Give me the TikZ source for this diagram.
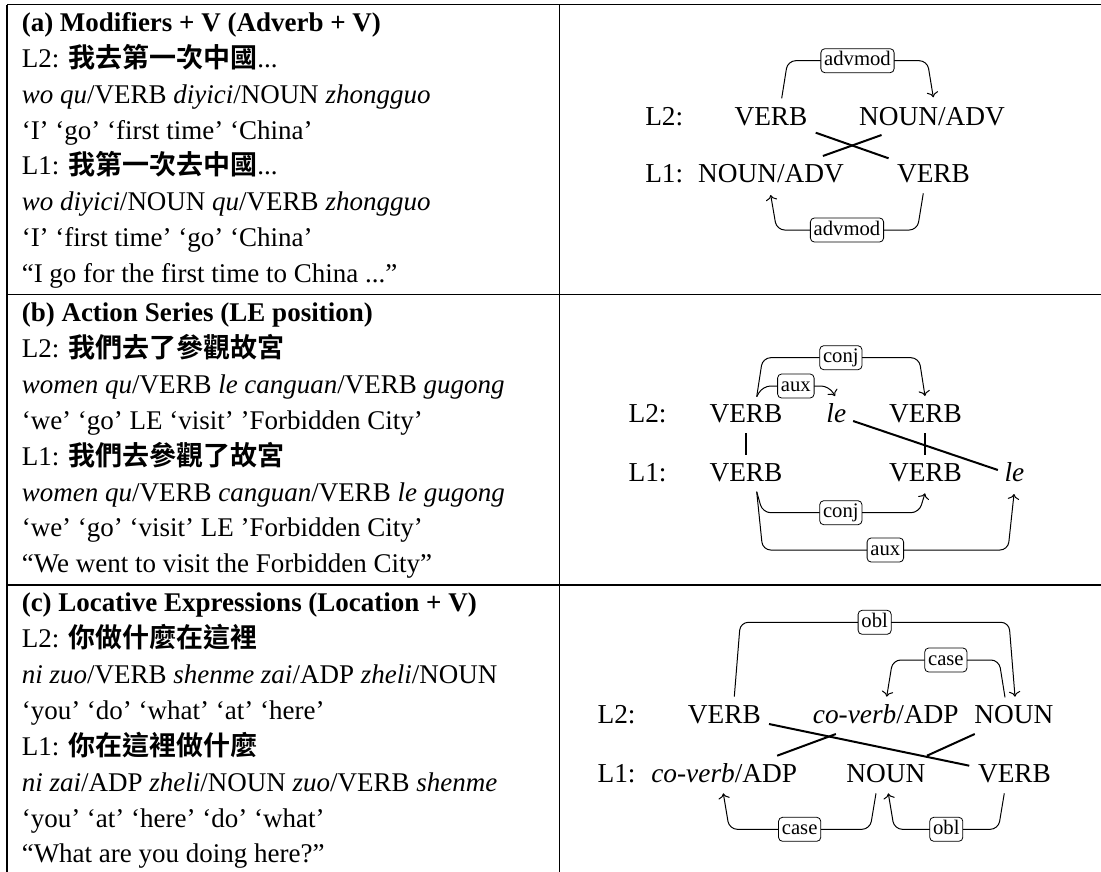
\documentclass[tikz,border=0pt]{standalone}
\usepackage{fontspec}
\setmainfont{Liberation Serif}
\newfontfamily\cjk{Noto Sans CJK TC}[BoldFont={* Bold}]
\usetikzlibrary{calc,arrows.meta}
\newcommand{\zh}[1]{{\cjk\bfseries #1}}
\begin{document}
\begin{tikzpicture}[x=0.75pt,y=-0.75pt,
  txt/.style={anchor=base west,inner sep=0pt,font=\fontsize{20.25pt}{24pt}\selectfont},
  wd/.style={anchor=base,inner sep=0pt,font=\fontsize{20.5pt}{24pt}\selectfont},
  lv/.style={anchor=base west,inner sep=0pt,font=\fontsize{20.5pt}{24pt}\selectfont},
  dep/.style={line width=0.75pt,rounded corners=6pt,-{To[scale=1.25]}},
  cross/.style={line width=1.5pt},
  tab/.style={line width=0.9pt},
  lab/.style={draw,line width=0.6pt,rounded corners=3pt,fill=white,inner xsep=2.5pt,inner ysep=2pt,
    text height=10.8pt,text depth=3.2pt,font=\fontsize{15.5pt}{15.5pt}\selectfont}
]
\clip (0,0) rectangle (1101,872);
\fill[white] (0,0) rectangle (1101,872);
% table
\draw[tab] (7,4.5) -- (1110,4.5);
\draw[tab] (7,294.7) -- (1110,294.7);
\draw[tab] (7,585) -- (1110,585);
\draw[tab] (7,4.5) -- (7,880);
\draw[tab] (559.7,4.5) -- (559.7,880);

% row a text
\node[txt] (ta1) at (21.5,31.5) {\textbf{(a) Modifiers + V (Adverb + V)}};
\node[txt] (ta2) at (21.5,67.4) {L2: \zh{我去第一次中國}...};
\node[txt] (ta3) at (21.5,103.2) {\textit{wo qu}/VERB \textit{diyici}/NOUN \textit{zhongguo}};
\node[txt] (ta4) at (21.5,139) {‘I’ ‘go’ ‘first time’ ‘China’};
\node[txt] (ta5) at (21.5,174.9) {L1: \zh{我第一次去中國}...};
\node[txt] (ta6) at (21.5,210.8) {\textit{wo diyici}/NOUN \textit{qu}/VERB \textit{zhongguo}};
\node[txt] (ta7) at (21.5,246.6) {‘I’ ‘first time’ ‘go’ ‘China’};
\node[txt] (ta8) at (21.5,282.5) {“I go for the first time to China ...”};

% row b text
\node[txt] (tb1) at (21.5,321.2) {\textbf{(b) Action Series (LE position)}};
\node[txt] (tb2) at (21.5,357.6) {L2: \zh{我們去了參觀故宮}};
\node[txt] (tb3) at (21.5,393.4) {\textit{women qu}/VERB \textit{le canguan}/VERB \textit{gugong}};
\node[txt] (tb4) at (21.5,429.2) {‘we’ ‘go’ LE ‘visit’ ’Forbidden City’};
\node[txt] (tb5) at (21.5,465.1) {L1: \zh{我們去參觀了故宮}};
\node[txt] (tb6) at (21.5,501) {\textit{women qu}/VERB \textit{canguan}/VERB \textit{le gugong}};
\node[txt] (tb7) at (21.5,536.8) {‘we’ ‘go’ ‘visit’ LE ’Forbidden City’};
\node[txt] (tb8) at (21.5,572.7) {“We went to visit the Forbidden City”};

% row c text
\node[txt] (tc1) at (21.5,611.7) {\textbf{(c) Locative Expressions (Location + V)}};
\node[txt] (tc2) at (21.5,647.8) {L2: \zh{你做什麼在這裡}};
\node[txt] (tc3) at (21.5,683.6) {\textit{ni zuo}/VERB \textit{shenme zai}/ADP \textit{zheli}/NOUN};
\node[txt] (tc4) at (21.5,719.4) {‘you’ ‘do’ ‘what’ ‘at’ ‘here’};
\node[txt] (tc5) at (21.5,755.3) {L1: \zh{你在這裡做什麼}};
\node[txt] (tc6) at (21.5,791.2) {\textit{ni zai}/ADP \textit{zheli}/NOUN \textit{zuo}/VERB \textit{shenme}};
\node[txt] (tc7) at (21.5,827) {‘you’ ‘at’ ‘here’ ‘do’ ‘what’};
\node[txt] (tc8) at (21.5,862.9) {“What are you doing here?”};

% diagram a
\node[lv] (la2) at (645,125) {L2:};
\node[wd] (va2) at (771,125) {VERB};
\node[wd] (na2) at (932,125) {NOUN/ADV};
\node[lv] (la1) at (645,182.7) {L1:};
\node[wd] (na1) at (771,182.7) {NOUN/ADV};
\node[wd] (va1) at (933.5,182.7) {VERB};
\draw[cross] ($(va2.base east)+(8,7.7)$) -- ($(va1.base west)+(-8.2,-24.4)$);
\draw[cross] ($(na2.base west)+(22.7,10)$) -- ($(na1.base east)+(-21.3,-26.7)$);
\draw[dep] ($(va2.base)+(10.7,-26.7)$) -- ++(6,-37.6) -- node[lab]{advmod} ($(na2.base)+(-4.7,-64.3)$) -- ($(na2.base)+(1.3,-27.7)$);
\draw[dep] ($(va1.base)+(-10.2,10.6)$) -- ++(-6,36.7) -- node[lab]{advmod} ($(na1.base)+(5.7,47.3)$) -- ($(na1.base)+(-0.3,12.3)$);

% diagram b
\node[lv] (lb2) at (628.3,422.7) {L2:};
\node[wd] (vb2a) at (746,422.7) {VERB};
\node[wd] (leb2) at (836.3,422.7) {\textit{le}};
\node[wd] (vb2b) at (925.5,422.7) {VERB};
\node[lv] (lb1) at (628.3,481.7) {L1:};
\node[wd] (vb1a) at (746,481.7) {VERB};
\node[wd] (vb1b) at (925.5,481.7) {VERB};
\node[wd] (leb1) at (1014.5,481.7) {\textit{le}};
\draw[cross] ($(vb2a.base)+(0,10.6)$) -- ($(vb1a.base)+(0,-26.7)$);
\draw[cross] ($(vb2b.base)+(-0.5,10.6)$) -- ($(vb1b.base)+(-0.5,-26.7)$);
\draw[cross] ($(leb2.base east)+(6.7,-1.7)$) -- ($(leb1.base west)+(-6.5,-11.7)$);
\draw[dep] ($(vb2a.base)+(10.7,-26)$) -- ++(6,-39) -- node[lab]{conj} ($(vb2b.base)+(-6.5,-65)$) -- ($(vb2b.base)+(-0.5,-26.7)$);
\draw[dep] ($(vb2a.base)+(10.7,-26)$) -- ++(6,-10.7) -- node[lab]{aux} ($(leb2.base)+(-7.3,-36.7)$) -- ($(leb2.base)+(-1.3,-26.7)$);
\draw[dep] ($(vb1a.base)+(10.7,10)$) -- ++(6,21) -- node[lab]{conj} ($(vb1b.base)+(-6.5,31)$) -- ($(vb1b.base)+(-0.5,11.6)$);
\draw[dep] ($(vb1a.base)+(10.7,10)$) -- ++(6,58.3) -- node[lab]{aux} ($(leb1.base)+(-6.5,68.3)$) -- ($(leb1.base)+(-0.5,12.3)$);

% diagram c
\node[lv] (lc2) at (597.3,723.3) {L2:};
\node[wd] (vc2) at (724.3,723.3) {VERB};
\node[wd] (cc2) at (885.8,723.3) {\textit{co-verb}/ADP};
\node[wd] (nc2) at (1013.8,723.3) {NOUN};
\node[lv] (lc1) at (597.3,782.7) {L1:};
\node[wd] (cc1) at (724.2,782.7) {\textit{co-verb}/ADP};
\node[wd] (nc1) at (885.8,782.7) {NOUN};
\node[wd] (vc1) at (1014.5,782.7) {VERB};
\draw[cross] ($(vc2.base east)+(8,0.7)$) -- ($(vc1.base west)+(-8.5,-17)$);
\draw[cross] ($(cc2.base west)+(23.2,10.7)$) -- ($(cc1.base east)+(-20.2,-27)$);
\draw[cross] ($(nc2.base west)+(0.7,10.7)$) -- ($(nc1.base east)+(1.4,-27)$);
\draw[dep] ($(vc2.base)+(10,-26.6)$) -- ++(6,-74.4) -- node[lab]{obl} ($(nc2.base)+(-4.8,-101)$) -- ($(nc2.base)+(1.2,-26.6)$);
\draw[dep] ($(nc2.base)+(-8.8,-26)$) -- ++(-6,-37.3) -- node[lab]{case} ($(cc2.base)+(6.9,-63.3)$) -- ($(cc2.base)+(0.9,-26.6)$);
\draw[dep] ($(nc1.base)+(-9.8,10.6)$) -- ++(-6,36) -- node[lab]{case} ($(cc1.base)+(5.1,46.6)$) -- ($(cc1.base)+(-0.9,10.6)$);
\draw[dep] ($(vc1.base)+(-10.2,10.6)$) -- ++(-6,36) -- node[lab]{obl} ($(nc1.base)+(8.5,46.6)$) -- ($(nc1.base)+(2.5,10.6)$);
\end{tikzpicture}
\end{document}
